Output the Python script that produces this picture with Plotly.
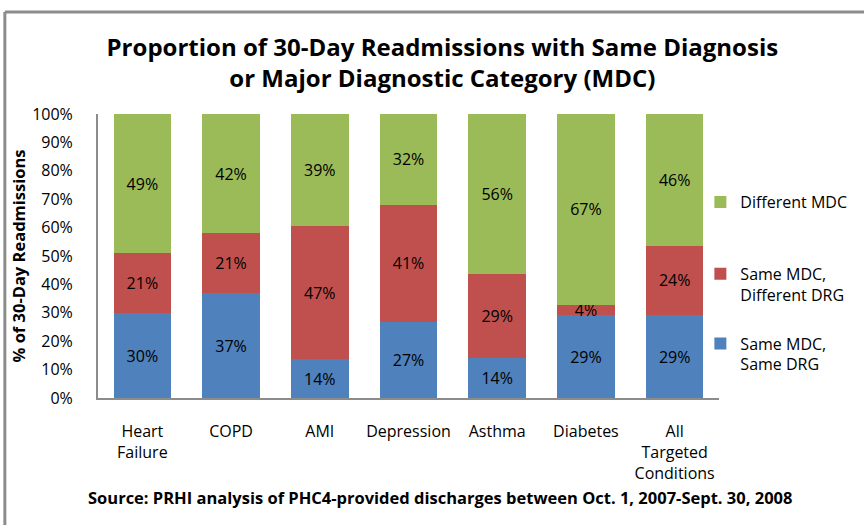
import plotly.graph_objects as go

categories = ["Heart<br>Failure", "COPD", "AMI", "Depression", "Asthma", "Diabetes", "All<br>Targeted<br>Conditions"]
same_drg = [29.8, 36.9, 13.6, 26.7, 14.2, 29.2, 29.2]
same_mdc_diff_drg = [21.1, 21.1, 47.0, 41.4, 29.4, 3.7, 24.4]
different_mdc = [49.1, 42.0, 39.4, 31.9, 56.4, 67.1, 46.4]
y_ticks = [0, 10, 20, 30, 40, 50, 60, 70, 80, 90, 100]
y_tick_labels = [f"{v}%" for v in y_ticks]

FONT = "Open Sans"
blue = "#4F81BD"
red = "#C0504D"
green = "#9BBB59"

fig = go.Figure()
series = [
    ("Same MDC,<br>Same DRG", same_drg, blue, "legend3"),
    ("Same MDC,<br>Different DRG", same_mdc_diff_drg, red, "legend2"),
    ("Different MDC", different_mdc, green, "legend"),
]
for name, vals, col, lg in series:
    fig.add_trace(go.Bar(
        x=categories, y=vals, name=name, marker=dict(color=col, line=dict(width=0)),
        text=vals, texttemplate="%{y:.0f}%", textposition="inside",
        insidetextanchor="middle", textangle=0,
        textfont=dict(family=FONT, size=16, color="#000000"),
        legend=lg, hoverinfo="skip", showlegend=True,
    ))

legend_common = dict(font=dict(family=FONT, size=16, color="#000000"), x=0.97, xanchor="left",
                     yanchor="middle", bgcolor="rgba(0,0,0,0)", valign="top")

fig.update_layout(
    barmode="stack",
    bargap=0.35,
    width=864, height=525,
    showlegend=True,
    margin=dict(l=98, r=137, t=114, b=127),
    paper_bgcolor="white", plot_bgcolor="white",
    font=dict(family=FONT, size=16, color="#000000"),
    uniformtext=dict(minsize=16, mode="show"),
    title=dict(text="<b>Proportion of 30-Day Readmissions with Same Diagnosis<br>or Major Diagnostic Category (MDC)</b>",
               x=0.512, xanchor="center", y=0.893, yanchor="middle", yref="container",
               font=dict(family=FONT, size=24, color="#000000")),
    legend=dict(y=0.69, **legend_common),
    legend2=dict(y=0.40, **legend_common),
    legend3=dict(y=0.155, **legend_common),
    xaxis=dict(showline=True, linecolor="#8c8c8c", linewidth=2, ticks="", showgrid=False,
               tickfont=dict(family=FONT, size=16, color="#000000"), ticklabelstandoff=18),
    yaxis=dict(range=[0, 100], tickvals=y_ticks, ticktext=y_tick_labels, showline=True,
               linecolor="#8c8c8c", linewidth=2, showgrid=False, ticks="", zeroline=False,
               tickfont=dict(family=FONT, size=16, color="#000000"), ticklabelstandoff=20,
               title=dict(text="<b>% of 30-Day Readmissions</b>", standoff=2,
                          font=dict(family=FONT, size=16.5, color="#000000"))),
    annotations=[dict(text="<b>Source: PRHI analysis of PHC4-provided discharges between Oct. 1, 2007-Sept. 30, 2008</b>",
                      xref="paper", yref="paper", x=0.55, y=-0.349, xanchor="center", yanchor="middle",
                      showarrow=False, font=dict(family=FONT, size=16.5, color="#000000"))],
    shapes=[
        dict(type="line", xref="paper", yref="paper", x0=-0.15, x1=1.3, y0=1.359, y1=1.359,
             line=dict(color="#8c8c8c", width=3)),
        dict(type="line", xref="paper", yref="paper", x0=-0.15, x1=-0.15, y0=1.359, y1=-0.5,
             line=dict(color="#8c8c8c", width=3)),
    ],
)

fig.write_html("out.html", config={"displayModeBar": False},
               post_script="document.body.style.margin='0';")
